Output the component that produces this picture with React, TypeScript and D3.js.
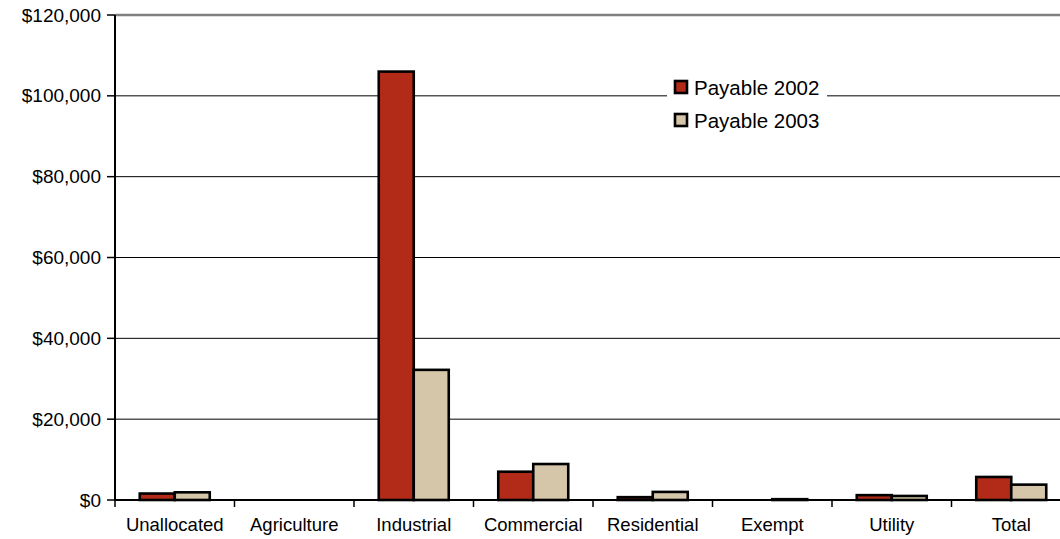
import React from "react";
import * as d3 from "d3";

const categories = ["Unallocated", "Agriculture", "Industrial", "Commercial", "Residential", "Exempt", "Utility", "Total"];
const seriesNames = ["Payable 2002", "Payable 2003"];
const payable2002 = [1600, 0, 106000, 7000, 700, 0, 1200, 5700];
const payable2003 = [1900, 0, 32200, 8900, 2000, 200, 1000, 3800];
const yTicks = [0, 20000, 40000, 60000, 80000, 100000, 120000];
const colors = ["#B22B18", "#D5C6A9"];

const W = 1060, H = 539;
const left = 115, top = 15, bottom = 500;
const bandW = 119.5;

export default function App() {
  const x = d3.scaleBand<string>().domain(categories).range([left, left + bandW * categories.length]).padding(0);
  const bw = x.bandwidth();
  const x1 = d3.scaleBand<string>().domain(seriesNames).range([bw / 2 - 35, bw / 2 + 35]).padding(0);
  const y = d3.scaleLinear().domain([0, 120000]).range([bottom, top]);
  const fmt = (v: number) => "$" + d3.format(",")(v);
  const data = [payable2002, payable2003];
  const font = "'Liberation Sans', Arial, sans-serif";

  return (
    <svg width={W} height={H} style={{ position: "absolute", left: 0, top: 0, background: "#fff" }} fontFamily={font}>
      {yTicks.filter(t => t > 0 && t < 120000).map(t => (
        <line key={t} x1={left} x2={W} y1={y(t)} y2={y(t)} stroke="#000" strokeWidth={1} />
      ))}
      <line x1={left} x2={W} y1={y(120000)} y2={y(120000)} stroke="#808080" strokeWidth={2.5} />
      {categories.map((c, i) => (
        <g key={c} transform={`translate(${x(c)},0)`}>
          {seriesNames.map((s, j) => {
            const v = data[j][i];
            if (v <= 0) return null;
            return (
              <rect key={s} x={x1(s)!} width={x1.bandwidth()} y={y(v)} height={y(0) - y(v)}
                fill={colors[j]} stroke="#000" strokeWidth={2.6} />
            );
          })}
        </g>
      ))}
      <line x1={left} x2={left} y1={top} y2={bottom + 1} stroke="#000" strokeWidth={2} />
      <line x1={left - 1} x2={W} y1={bottom} y2={bottom} stroke="#000" strokeWidth={2} />
      {yTicks.map(t => (
        <g key={t}>
          <line x1={left - 8} x2={left} y1={y(t)} y2={y(t)} stroke="#000" strokeWidth={1.5} />
          <text x={101} y={y(t)} dy="0.35em" textAnchor="end" fontSize={19} fill="#000">{fmt(t)}</text>
        </g>
      ))}
      {categories.map((c) => (
        <g key={c}>
          <line x1={x(c)!} x2={x(c)!} y1={bottom} y2={bottom + 7} stroke="#000" strokeWidth={1.5} />
          <text x={x(c)! + bw / 2} y={531} textAnchor="middle" fontSize={18.5} fill="#000">{c}</text>
        </g>
      ))}
      <rect x={667} y={68} width={160} height={72} fill="#fff" />
      {seriesNames.map((s, j) => (
        <g key={s} transform={`translate(675,${81 + j * 33})`}>
          <rect x={0} y={0} width={12} height={12} fill={colors[j]} stroke="#000" strokeWidth={2.6} />
          <text x={19} y={13.5} fontSize={20.5} fill="#000">{s}</text>
        </g>
      ))}
    </svg>
  );
}
